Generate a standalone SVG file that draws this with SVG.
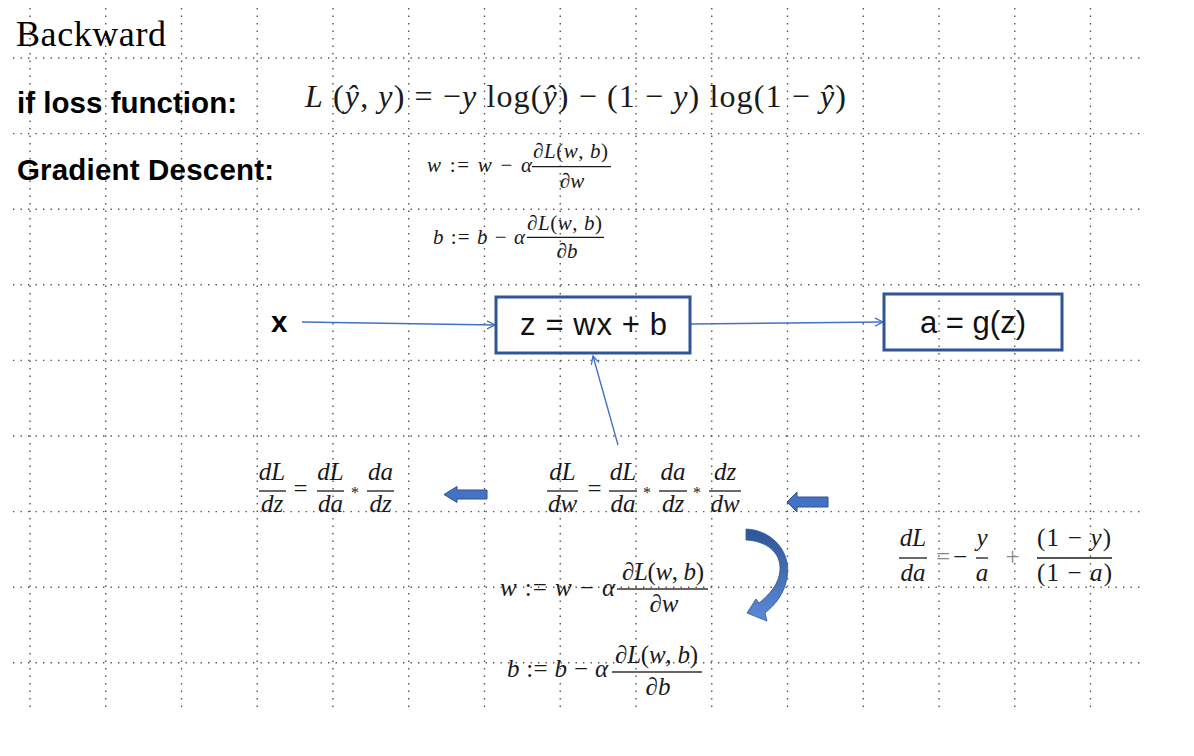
<svg xmlns="http://www.w3.org/2000/svg" width="1194" height="756" viewBox="0 0 1194 756">
<style>
.grid{stroke:#555;stroke-width:1.4;stroke-dasharray:1.4 6.1;fill:none}
.m{font-family:"Liberation Serif","DejaVu Serif",serif;fill:#1a1a1a}
.i{font-style:italic}
.bar{stroke:#1a1a1a;stroke-width:1.3}
.bar2{stroke:#3d2f2f;stroke-width:1.6}
.conn{stroke:#4472C4;stroke-width:1.4;fill:none}
.box{fill:none;stroke:#2F5597;stroke-width:3}
.lbl{font-family:"Liberation Sans",Arial,sans-serif;font-size:31px;fill:#111}
.head{font-family:"Liberation Sans",Arial,sans-serif;font-weight:bold;font-size:29.5px;fill:#000}
.block{fill:#4472C4;stroke:#2F528F;stroke-width:1}
.f{font-size:25px}
.g{fill:#888}
</style>
<defs>
<marker id="chev" viewBox="0 0 10 10" refX="9" refY="5" markerWidth="10" markerHeight="10" markerUnits="userSpaceOnUse" orient="auto">
<path d="M1,1 L9,5 L1,9" fill="none" stroke="#4472C4" stroke-width="1.3"/>
</marker>
<linearGradient id="cg" x1="0" y1="0" x2="0" y2="1">
<stop offset="0" stop-color="#2F5597"/>
<stop offset="1" stop-color="#5B8BD6"/>
</linearGradient>
</defs>
<rect width="1194" height="756" fill="#fff"/>
<g id="grid">
<path class="grid" d="M30,8V709M105.75,8V709M181.5,8V709M257.25,8V709M333,8V709M408.75,8V709M484.5,8V709M560.25,8V709M636,8V709M711.75,8V709M787.5,8V709M863.25,8V709M939,8V709M1014.75,8V709M1090.5,8V709"/>
<path class="grid" d="M13,58H1143M13,133.6H1143M13,209.2H1143M13,284.8H1143M13,360.4H1143M13,436H1143M13,511.6H1143M13,587.2H1143M13,662.8H1143"/>
</g>
<g id="title">
<text x="16" y="46" font-family="Liberation Serif,serif" font-size="36" fill="#000" textLength="150">Backward</text>
<text class="head" x="17" y="113" textLength="220">if loss function:</text>
<text class="head" x="17" y="180" textLength="257">Gradient Descent:</text>
</g>
<g id="loss-formula">
<text class="m" x="305" y="107" font-size="32" textLength="541"><tspan class="i">L</tspan> (<tspan class="i">ŷ</tspan>, <tspan class="i">y</tspan>) = −<tspan class="i">y</tspan> log(<tspan class="i">ŷ</tspan>) − (1 − <tspan class="i">y</tspan>) log(1 − <tspan class="i">ŷ</tspan>)</text>
</g>
<g id="gd-top">
<text class="m" x="427" y="172" font-size="21" textLength="105"><tspan class="i">w</tspan> := <tspan class="i">w</tspan> − <tspan class="i">α</tspan></text>
<text class="m" x="533" y="158" font-size="21" textLength="75">∂<tspan class="i">L</tspan>(<tspan class="i">w</tspan>, <tspan class="i">b</tspan>)</text>
<line class="bar" x1="532" y1="166.7" x2="611" y2="166.7"/>
<text class="m" x="572" y="188" font-size="21" text-anchor="middle">∂<tspan class="i">w</tspan></text>
<text class="m" x="433" y="244" font-size="21" textLength="92"><tspan class="i">b</tspan> := <tspan class="i">b</tspan> − <tspan class="i">α</tspan></text>
<text class="m" x="527" y="230" font-size="21" textLength="75">∂<tspan class="i">L</tspan>(<tspan class="i">w</tspan>, <tspan class="i">b</tspan>)</text>
<line class="bar" x1="527" y1="237.3" x2="604" y2="237.3"/>
<text class="m" x="567" y="258" font-size="21" text-anchor="middle">∂<tspan class="i">b</tspan></text>
</g>
<g id="connectors">
<line class="conn" x1="302" y1="322" x2="495" y2="325" marker-end="url(#chev)"/>
<line class="conn" x1="690" y1="324" x2="883" y2="322" marker-end="url(#chev)"/>
<line class="conn" x1="618" y1="445" x2="593" y2="356" marker-end="url(#chev)"/>
</g>
<g id="node-x">
<text class="head" x="271" y="332" font-size="29">x</text>
</g>
<g id="node-z">
<rect class="box" x="496" y="297" width="194" height="56"/>
<text class="lbl" x="520" y="335" textLength="147">z = wx + b</text>
</g>
<g id="node-a">
<rect class="box" x="884" y="294" width="178" height="56"/>
<text class="lbl" x="920" y="333" textLength="106">a = g(z)</text>
</g>
<g id="eq-dLdz">
<text class="m f i" x="272" y="480" text-anchor="middle">dL</text>
<line class="bar" x1="259" y1="491" x2="286" y2="491"/>
<text class="m f i" x="272" y="512" text-anchor="middle">dz</text>
<text class="m f" x="300.5" y="497" text-anchor="middle">=</text>
<text class="m f i" x="330.5" y="480" text-anchor="middle">dL</text>
<line class="bar" x1="317" y1="491" x2="344" y2="491"/>
<text class="m f i" x="330.5" y="512" text-anchor="middle">da</text>
<text class="m" x="355" y="498" font-size="16" text-anchor="middle">*</text>
<text class="m f i" x="380.5" y="480" text-anchor="middle">da</text>
<line class="bar" x1="367" y1="491" x2="394" y2="491"/>
<text class="m f i" x="380.5" y="512" text-anchor="middle">dz</text>
</g>
<g id="arrow-left-1">
<path class="block" d="M444,494.5 L457,486.5 L457,490 L487,490 L487,499 L457,499 L457,502.5 Z"/>
</g>
<g id="eq-dLdw">
<text class="m f i" x="562.5" y="480" text-anchor="middle">dL</text>
<line class="bar" x1="547" y1="491" x2="578" y2="491"/>
<text class="m f i" x="562.5" y="512" text-anchor="middle">dw</text>
<text class="m f" x="594.5" y="497" text-anchor="middle">=</text>
<text class="m f i" x="623" y="480" text-anchor="middle">dL</text>
<line class="bar" x1="609" y1="491" x2="637" y2="491"/>
<text class="m f i" x="623" y="512" text-anchor="middle">da</text>
<text class="m" x="647" y="498" font-size="16" text-anchor="middle">*</text>
<text class="m f i" x="673" y="480" text-anchor="middle">da</text>
<line class="bar" x1="659" y1="491" x2="687" y2="491"/>
<text class="m f i" x="673" y="512" text-anchor="middle">dz</text>
<text class="m" x="697" y="498" font-size="16" text-anchor="middle">*</text>
<text class="m f i" x="725" y="480" text-anchor="middle">dz</text>
<line class="bar" x1="709" y1="491" x2="741" y2="491"/>
<text class="m f i" x="725" y="512" text-anchor="middle">dw</text>
</g>
<g id="arrow-left-2">
<path class="block" d="M787,502 L797,492 L797,497 L828,497 L828,507 L797,507 L797,512 Z"/>
</g>
<g id="eq-dLda">
<text class="m f i" x="913" y="546" text-anchor="middle">dL</text>
<line class="bar" x1="899" y1="558" x2="927" y2="558"/>
<text class="m f i" x="913" y="581" text-anchor="middle">da</text>
<text class="m f g" x="943" y="564.5" text-anchor="middle">=</text>
<text class="m f" x="960" y="564.5" text-anchor="middle">−</text>
<text class="m f i" x="982" y="546" text-anchor="middle">y</text>
<line class="bar" x1="976" y1="558" x2="988" y2="558"/>
<text class="m f i" x="982" y="581" text-anchor="middle">a</text>
<text class="m f g" x="1012.5" y="565" text-anchor="middle">+</text>
<text class="m f" x="1037" y="546" textLength="74">(1 − <tspan class="i">y</tspan>)</text>
<line class="bar" x1="1037" y1="558" x2="1112" y2="558"/>
<text class="m f" x="1037" y="581" textLength="75">(1 − <tspan class="i">a</tspan>)</text>
</g>
<g id="curved-arrow">
<path fill="url(#cg)" stroke="#2F5597" stroke-width="0.8" d="M746,529 C772,530 792,552 787,578 C784,594 776,604 765,613 L767,621 L747,613 L756,599 L759,603 C770,594 779,584 780,570 C781,552 766,541 746,540 Z"/>
</g>
<g id="gd-bottom">
<text class="m" x="500" y="596" font-size="25" textLength="115"><tspan class="i">w</tspan> := <tspan class="i">w</tspan> − <tspan class="i">α</tspan></text>
<text class="m" x="622" y="580" font-size="25" textLength="82">∂<tspan class="i">L</tspan>(<tspan class="i">w</tspan>, <tspan class="i">b</tspan>)</text>
<line class="bar2" x1="617" y1="589" x2="708" y2="589"/>
<text class="m" x="664" y="612" font-size="25" text-anchor="middle">∂<tspan class="i">w</tspan></text>
<text class="m" x="507" y="677" font-size="25" textLength="101"><tspan class="i">b</tspan> := <tspan class="i">b</tspan> − <tspan class="i">α</tspan></text>
<text class="m" x="615" y="663" font-size="25" textLength="83">∂<tspan class="i">L</tspan>(<tspan class="i">w</tspan>, <tspan class="i">b</tspan>)</text>
<line class="bar2" x1="612" y1="672" x2="702" y2="672"/>
<text class="m" x="658" y="695" font-size="25" text-anchor="middle">∂<tspan class="i">b</tspan></text>
</g>
</svg>
